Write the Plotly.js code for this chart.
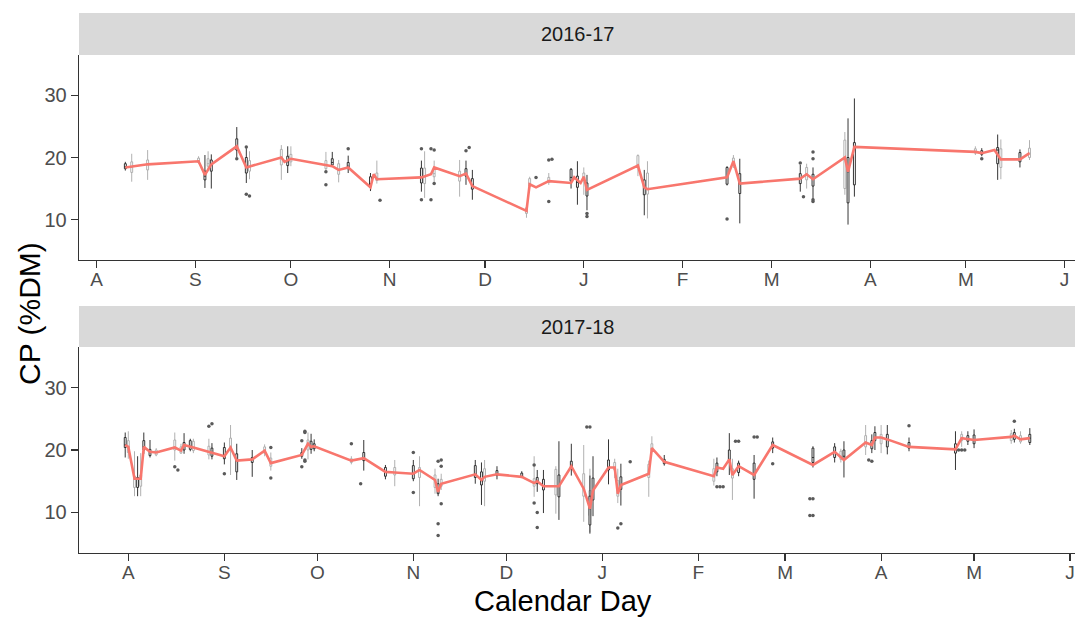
<!DOCTYPE html>
<html>
<head>
<meta charset="utf-8">
<script src="https://cdn.plot.ly/plotly-3.0.1.min.js"></script>
<style>
  html, body { margin: 0; padding: 0; background: #ffffff; }
  #chart { width: 1075px; height: 617px; }
</style>
</head>
<body>
<div id="chart"></div>
<script>
// ---- Season 2016-17 : daily mean crude protein (red line) ----
const cpDates1617 = ['2016-08-10','2016-08-17','2016-09-02','2016-09-04','2016-09-06','2016-09-14','2016-09-17','2016-09-28','2016-09-29','2016-10-01',
  '2016-10-14','2016-10-16','2016-10-19','2016-10-26','2016-10-27','2016-10-28','2016-11-11','2016-11-14','2016-11-15','2016-11-23',
  '2016-11-25','2016-11-27','2016-12-14','2016-12-15','2016-12-17','2016-12-21','2016-12-28','2016-12-29','2016-12-31','2017-01-01',
  '2017-01-02','2017-01-18','2017-01-20','2017-01-21','2017-02-15','2017-02-17','2017-02-19','2017-03-10','2017-03-12','2017-03-14',
  '2017-03-24','2017-03-25','2017-03-27','2017-05-04','2017-05-06','2017-05-10','2017-05-12','2017-05-18','2017-05-21'];
const cpMean1617 = [18.4,18.9,19.4,17.2,18.9,21.8,18.4,20.0,19.3,19.8,
  18.6,18.0,18.4,15.2,17.3,16.5,16.8,17.3,18.4,17.0,
  17.4,15.4,11.4,15.7,15.2,16.2,15.9,16.8,15.9,16.9,
  14.8,18.7,15.2,14.9,16.8,19.4,15.8,16.6,17.3,16.5,
  20.0,17.7,21.7,20.9,20.7,21.2,19.7,19.7,20.7];

// ---- Season 2016-17 : daily box summaries ----
const boxDates1617 = ['2016-08-10','2016-08-12','2016-08-17','2016-09-02','2016-09-04','2016-09-05','2016-09-06','2016-09-14','2016-09-17','2016-09-18',
  '2016-09-28','2016-09-30','2016-10-01','2016-10-12','2016-10-14','2016-10-16','2016-10-19','2016-10-26','2016-10-28','2016-11-11',
  '2016-11-12','2016-11-15','2016-11-23','2016-11-25','2016-11-27','2016-12-14','2016-12-15','2016-12-21','2016-12-28','2016-12-30',
  '2017-01-01','2017-01-02','2017-01-18','2017-01-20','2017-01-21','2017-02-15','2017-02-17','2017-02-19','2017-03-10','2017-03-12',
  '2017-03-14','2017-03-24','2017-03-25','2017-03-27','2017-05-04','2017-05-06','2017-05-11','2017-05-12','2017-05-18','2017-05-21'];
const boxLow1617  = [17.9,16.1,16.4,19.0,15.1,18.0,15.0,20.0,15.9,16.5, 16.4,17.5,18.6,17.6,18.5,16.0,17.5,14.6,15.8,14.5,
  13.5,15.8,13.7,15.6,13.2,10.3,15.0,15.6,15.0,12.4, 14.0,11.5,17.0,10.7,10.2,15.5,18.3,9.4,14.5,15.0, 12.7,14.0,9.2,13.7,20.4,20.2,16.4,16.5,18.4,19.6];
const boxQ1_1617  = [18.2,17.6,18.0,19.2,16.4,18.6,17.8,21.2,17.5,17.8, 18.8,18.7,19.3,18.2,18.8,17.3,18.2,15.3,16.3,15.9,
  15.8,16.9,16.2,17.0,14.9,11.0,15.4,16.0,16.2,15.2, 16.3,13.8,18.4,14.0,14.1,15.7,18.8,14.2,15.8,16.4, 15.4,15.0,12.7,15.6,20.7,20.5,19.0,18.4,19.3,20.0];
const boxMed1617  = [18.5,18.4,18.9,19.5,17.0,19.0,18.9,21.8,18.4,18.6, 20.0,19.3,19.8,18.8,19.2,18.0,18.6,15.8,16.8,16.8,
  16.9,17.4,17.0,17.4,15.6,11.4,15.8,16.3,16.8,16.0, 16.9,14.8,18.9,15.2,15.0,16.8,19.4,15.8,16.6,17.3, 16.5,20.0,17.7,21.7,21.0,20.8,21.2,19.7,19.7,20.7];
const boxQ3_1617  = [19.0,19.3,19.6,19.9,17.8,19.8,19.6,23.0,20.0,19.5, 21.3,20.2,20.5,19.5,19.8,19.0,19.2,16.9,17.5,18.3,
  18.3,18.2,17.8,18.2,16.6,11.9,16.6,16.8,18.1,17.0, 17.5,15.9,20.3,16.4,17.5,18.4,19.9,17.4,17.4,18.4, 17.3,22.8,20.0,22.4,21.4,21.1,21.6,21.4,20.8,21.5];
const boxHigh1617 = [19.3,20.6,21.2,20.2,20.4,21.0,20.5,24.9,21.5,21.0, 22.0,21.8,21.8,20.9,20.9,19.6,20.3,17.5,19.5,19.5,
  21.0,19.5,19.6,19.5,18.0,12.3,16.9,17.5,18.3,19.4, 18.4,17.2,20.5,18.0,19.4,18.6,20.4,19.8,18.8,19.0, 18.4,24.1,26.3,29.5,21.8,21.5,23.7,22.9,21.3,22.8];
const boxShade1617 = ['dark','light','light','light','dark','light','dark','dark','dark','light',
  'light','dark','light','light','dark','light','dark','dark','light','dark',
  'light','light','light','dark','dark','light','light','light','dark','dark',
  'light','dark','light','dark','light','dark','light','dark','dark','light',
  'dark','light','dark','dark','light','dark','dark','light','dark','light'];

// ---- Season 2016-17 : outlying samples ----
const outDates1617 = ['2016-09-14','2016-09-17','2016-09-17','2016-09-18','2016-10-12','2016-10-12','2016-10-19','2016-10-29','2016-11-11','2016-11-11',
  '2016-11-14','2016-11-15','2016-11-14','2016-11-15','2016-11-25','2016-11-26','2016-12-17','2016-12-21','2016-12-22','2016-12-21',
  '2017-01-02','2017-01-02','2017-02-15','2017-03-10','2017-03-11','2017-03-14','2017-03-14','2017-03-14','2017-03-14','2017-05-06'];
const outCP1617 = [19.8,21.7,14.1,13.8,17.7,15.6,21.4,13.1,21.4,13.2,
  21.4,21.2,13.2,15.8,21.1,21.6,16.8,19.6,19.7,12.9,
  11.0,10.5,10.1,19.1,13.7,20.9,19.8,13.2,12.9,19.8];

// ---- Season 2017-18 : daily mean crude protein (red line) ----
const cpDates1718 = ['2017-07-31','2017-08-01','2017-08-03','2017-08-05','2017-08-06','2017-08-08','2017-08-10','2017-08-16','2017-08-18','2017-08-19',
  '2017-08-22','2017-08-28','2017-09-01','2017-09-03','2017-09-05','2017-09-10','2017-09-14','2017-09-16','2017-09-26','2017-09-28',
  '2017-09-29','2017-09-30','2017-10-12','2017-10-16','2017-10-23','2017-10-26','2017-11-01','2017-11-03','2017-11-08','2017-11-09',
  '2017-11-10','2017-11-21','2017-11-23','2017-11-24','2017-11-28','2017-12-06','2017-12-10','2017-12-11','2017-12-13','2017-12-18',
  '2017-12-22','2017-12-26','2017-12-28','2017-12-29','2018-01-03','2018-01-05','2018-01-06','2018-01-07','2018-01-16','2018-01-17',
  '2018-01-21','2018-02-06','2018-02-07','2018-02-09','2018-02-11','2018-02-12','2018-02-14','2018-02-19','2018-02-25','2018-03-10',
  '2018-03-17','2018-03-20','2018-03-27','2018-03-29','2018-03-30','2018-04-01','2018-04-03','2018-04-10','2018-04-25','2018-04-27',
  '2018-05-01','2018-05-13','2018-05-14','2018-05-16','2018-05-19'];
const cpMean1718 = [20.8,20.5,15.4,15.4,20.5,19.7,19.6,20.4,19.9,20.8,
  20.4,19.6,19.0,20.4,18.3,18.5,19.9,17.9,19.2,21.0,
  20.5,20.6,18.3,18.7,16.5,16.4,16.2,16.8,15.2,13.3,
  14.6,16.1,15.2,15.7,16.1,15.7,14.7,15.0,14.2,14.2,
  17.4,13.8,10.6,13.5,17.2,17.2,13.0,14.4,16.2,20.3,
  18.1,15.8,17.2,17.0,18.5,16.0,17.4,16.0,20.8,17.6,
  19.7,18.4,21.2,20.8,22.0,22.0,21.7,20.5,20.1,21.9,
  21.6,22.1,22.3,21.7,21.9];

// ---- Season 2017-18 : daily box summaries ----
const boxDates1718 = ['2017-07-31','2017-08-01','2017-08-03','2017-08-04','2017-08-05','2017-08-06','2017-08-08','2017-08-10','2017-08-16','2017-08-18',
  '2017-08-19','2017-08-21','2017-08-22','2017-08-27','2017-08-28','2017-09-01','2017-09-03','2017-09-05','2017-09-10','2017-09-14',
  '2017-09-16','2017-09-26','2017-09-28','2017-09-29','2017-09-30','2017-10-12','2017-10-16','2017-10-23','2017-10-26','2017-11-01',
  '2017-11-03','2017-11-08','2017-11-09','2017-11-10','2017-11-21','2017-11-23','2017-11-24','2017-11-28','2017-12-06','2017-12-10',
  '2017-12-11','2017-12-13','2017-12-17','2017-12-18','2017-12-22','2017-12-26','2017-12-28','2017-12-28','2017-12-29','2018-01-03',
  '2018-01-05','2018-01-06','2018-01-07','2018-01-16','2018-01-17','2018-01-21','2018-02-06','2018-02-07','2018-02-11','2018-02-12',
  '2018-02-14','2018-02-19','2018-02-25','2018-03-10','2018-03-17','2018-03-19','2018-03-20','2018-03-27','2018-03-29','2018-03-30',
  '2018-04-01','2018-04-03','2018-04-10','2018-04-25','2018-04-27','2018-04-29','2018-05-01','2018-05-13','2018-05-14','2018-05-16',
  '2018-05-19'];
const boxLow1718  = [18.8,18.6,12.6,12.6,12.6,19.4,18.8,19.0,18.3,19.4, 19.4,19.8,19.5,18.5,18.5,17.7,16.0,15.2,15.7,19.0,
  16.7,18.6,18.5,19.4,19.8,17.7,16.7,15.3,14.2,15.0, 11.0,13.0,12.6,13.6,14.6,11.2,11.0,15.3,15.5,12.5,
  13.3,9.9,9.8,8.8,15.9,8.5,6.6,6.8,9.4,14.5, 15.5,11.5,11.1,12.5,19.6,17.5,14.3,15.8,16.0,12.0,
  15.8,12.2,19.5,17.2,18.0,18.0,15.6,19.2,19.5,20.0, 19.5,19.3,19.8,16.8,20.5,20.8,20.3,21.0,21.2,21.0, 20.8];
const boxQ1_1718  = [20.4,19.6,14.0,14.0,14.2,20.0,19.1,19.2,20.0,19.5, 20.0,20.1,19.9,19.2,19.0,18.6,20.0,16.5,18.0,19.5,
  17.4,19.0,20.0,20.1,20.2,18.0,18.3,15.8,16.0,15.4, 15.6,14.0,13.0,14.2,15.6,14.4,15.0,15.9,15.6,14.2,
  14.6,13.6,12.8,12.5,17.0,12.6,8.0,9.5,12.0,16.8, 16.8,12.6,13.7,15.6,19.9,17.8,15.0,16.5,18.0,15.5,
  16.4,15.3,20.3,18.0,18.8,18.5,18.5,20.5,20.2,21.5, 21.0,20.5,20.3,19.5,21.5,21.4,21.0,21.5,21.7,21.3, 21.2];
const boxMed1718  = [20.8,20.5,15.4,15.3,15.4,20.5,19.6,19.6,20.4,19.9, 20.8,20.6,20.4,19.6,19.6,19.0,20.4,18.3,18.5,19.9,
  17.9,19.2,21.0,20.5,20.6,18.3,18.7,16.5,16.4,16.2, 16.8,15.2,13.3,14.6,16.1,15.2,15.7,16.1,15.7,14.7,
  15.0,14.2,14.2,14.2,17.4,13.8,10.6,10.9,13.5,17.2, 17.2,13.0,14.4,16.2,20.3,18.1,15.8,17.2,18.5,16.0,
  17.4,16.0,20.8,18.8,19.7,19.0,19.0,21.2,20.8,22.0, 22.0,21.7,20.5,20.1,21.9,21.8,21.6,22.1,22.3,21.7, 21.9];
const boxQ3_1718  = [22.0,21.5,15.8,15.6,16.0,21.5,20.1,20.0,21.6,20.5, 21.2,21.5,21.4,20.6,20.3,20.4,21.9,19.4,18.8,20.5,
  18.7,19.6,21.6,21.4,21.0,18.6,19.6,17.2,17.2,17.5, 17.2,16.0,14.6,15.3,17.5,16.5,17.0,16.7,16.3,15.4,
  15.6,15.3,16.9,16.0,18.2,16.2,12.6,13.5,15.5,18.4, 18.0,15.1,15.7,17.7,21.0,18.5,17.0,17.9,20.0,17.0,
  17.9,17.9,21.3,20.3,20.5,19.8,20.0,22.3,21.5,22.8, 22.5,22.5,21.2,21.0,22.5,22.3,22.4,22.6,22.8,22.3, 22.5];
const boxHigh1718 = [22.8,23.0,19.8,19.0,19.5,22.8,21.6,20.3,22.8,21.0, 22.7,21.8,21.8,21.8,21.1,21.2,24.0,21.0,20.0,20.9,
  19.6,20.3,22.8,22.6,21.7,19.0,21.6,17.6,18.4,18.4, 19.0,17.0,15.4,16.2,18.4,18.0,18.4,17.4,16.6,19.0,
  16.8,16.8,17.4,21.4,21.0,20.8,15.9,17.0,19.0,21.7, 18.6,17.0,17.8,18.3,22.2,19.2,18.6,18.8,22.7,18.6,
  18.3,19.2,22.0,20.6,21.1,20.2,21.4,24.0,22.5,23.8, 24.0,24.0,22.0,23.0,23.0,23.0,23.3,23.2,23.4,23.0, 23.5];
const boxShade1718 = ['dark','light','light','dark','light','dark','dark','light','light','light',
  'dark','dark','light','light','dark','dark','light','dark','dark','light',
  'light','dark','light','dark','dark','light','dark','dark','light','dark',
  'light','light','dark','light','dark','dark','light','dark','dark','light',
  'dark','dark','light','dark','dark','light','dark','light','dark','dark',
  'light','light','dark','light','light','dark','light','dark','dark','light',
  'dark','dark','dark','dark','dark','light','dark','light','dark','dark',
  'light','dark','dark','dark','light','dark','dark','light','dark','light',
  'dark'];

// ---- Season 2017-18 : outlying samples ----
const outDates1718 = ['2017-08-16','2017-08-17','2017-08-27','2017-08-28','2017-09-01','2017-09-16','2017-09-16','2017-09-26','2017-09-26','2017-09-27',
  '2017-09-27','2017-09-27','2017-09-27','2017-10-12','2017-10-15','2017-11-01','2017-11-01','2017-11-09','2017-11-10','2017-11-10',
  '2017-11-10','2017-11-09','2017-11-09','2017-12-10','2017-12-10','2017-12-11','2017-12-11','2017-12-27','2017-12-28','2018-01-06',
  '2018-01-07','2018-01-10','2018-02-07','2018-02-08','2018-02-09','2018-02-13','2018-02-14','2018-02-19','2018-02-20','2018-02-25',
  '2018-03-09','2018-03-10','2018-03-09','2018-03-10','2018-03-28','2018-03-29','2018-04-10','2018-04-26','2018-04-27','2018-04-28',
  '2018-05-14'];
const outCP1718 = [17.3,16.8,23.8,24.2,16.2,20.4,15.5,21.5,17.3,23.0,
  22.8,18.4,18.2,21.0,14.6,19.6,13.2,18.2,18.4,17.4,
  11.4,8.2,6.3,17.6,11.5,10.0,7.6,23.7,23.7,7.5,
  8.2,18.1,14.1,14.1,14.1,21.4,21.4,22.1,22.1,17.8,
  12.2,12.2,9.5,9.5,18.4,18.2,23.9,20.0,20.0,20.0,
  24.6];

// ---- Axis tick labels (first letter of each month) ----
const monthLetters = ['A','S','O','N','D','J','F','M','A','M','J'];
const monthStarts1617 = ['2016-08-01','2016-09-01','2016-10-01','2016-11-01','2016-12-01','2017-01-01','2017-02-01','2017-03-01','2017-04-01','2017-05-01','2017-06-01'];
const monthStarts1718 = ['2017-08-01','2017-09-01','2017-10-01','2017-11-01','2017-12-01','2018-01-01','2018-02-01','2018-03-01','2018-04-01','2018-05-01','2018-06-01'];
const cpTicks = [10, 20, 30];
const seasonLabels = ['2016-17', '2017-18'];

const DAY_MS = 86400000;
const INK = { dark: '#1e1e1e', light: '#a8a8a8' };

// Split the daily summaries into one box trace per outline shade.
function boxTraces(dates, lo, q1, med, q3, hi, shade, xa, ya) {
  return ['light', 'dark'].map(function (s) {
    const idx = [];
    shade.forEach(function (v, i) { if (v === s) idx.push(i); });
    const pick = function (arr) { return idx.map(function (i) { return arr[i]; }); };
    return {
      type: 'box', xaxis: xa, yaxis: ya,
      x: pick(dates), lowerfence: pick(lo), q1: pick(q1), median: pick(med),
      q3: pick(q3), upperfence: pick(hi),
      width: 0.6 * DAY_MS, whiskerwidth: 0, boxpoints: false,
      line: { color: INK[s], width: 0.9 }, fillcolor: '#ffffff',
      showlegend: false, hoverinfo: 'skip'
    };
  });
}

function outlierTrace(dates, vals, xa, ya) {
  return {
    type: 'scatter', mode: 'markers', xaxis: xa, yaxis: ya,
    x: dates, y: vals,
    marker: { color: '#5a5a5a', size: 3.5 },
    showlegend: false, hoverinfo: 'skip'
  };
}

function meanTrace(dates, vals, xa, ya) {
  return {
    type: 'scatter', mode: 'lines', xaxis: xa, yaxis: ya,
    x: dates, y: vals,
    line: { color: '#F8766D', width: 2.6 },
    showlegend: false, hoverinfo: 'skip'
  };
}

const traces = []
  .concat(boxTraces(boxDates1617, boxLow1617, boxQ1_1617, boxMed1617, boxQ3_1617, boxHigh1617, boxShade1617, 'x', 'y'))
  .concat([outlierTrace(outDates1617, outCP1617, 'x', 'y'), meanTrace(cpDates1617, cpMean1617, 'x', 'y')])
  .concat(boxTraces(boxDates1718, boxLow1718, boxQ1_1718, boxMed1718, boxQ3_1718, boxHigh1718, boxShade1718, 'x2', 'y2'))
  .concat([outlierTrace(outDates1718, outCP1718, 'x2', 'y2'), meanTrace(cpDates1718, cpMean1718, 'x2', 'y2')]);

const H = 617;
const FONT = 'Liberation Sans, Arial, sans-serif';
const yTickFont = { family: FONT, size: 20, color: '#4d4d4d' };
const xTickFont = { family: FONT, size: 19, color: '#4d4d4d' };

// Panel geometry in pixels (top of strip, top of panel, bottom of panel)
const panels = [
  { strip: 13, top: 55, bottom: 260 },
  { strip: 306, top: 347, bottom: 553 }
];
const py = function (px) { return 1 - px / H; };

function xAxis(anchor, ticks, range) {
  return {
    type: 'date', anchor: anchor, domain: [0, 1], range: range,
    tickmode: 'array', tickvals: ticks, ticktext: monthLetters,
    ticks: 'outside', ticklen: 7, tickwidth: 1.2, tickcolor: '#333333',
    ticklabelstandoff: -5,
    showline: true, linecolor: '#333333', linewidth: 1.3,
    showgrid: false, zeroline: false, tickfont: xTickFont, fixedrange: true
  };
}
function yAxis(anchor, p) {
  return {
    anchor: anchor, domain: [py(p.bottom), py(p.top)], range: [3.5, 36.5],
    tickmode: 'array', tickvals: cpTicks, ticktext: cpTicks.map(String),
    ticks: 'outside', ticklen: 7, tickwidth: 1.2, tickcolor: '#333333',
    showline: true, linecolor: '#333333', linewidth: 1.3,
    showgrid: false, zeroline: false, tickfont: yTickFont, fixedrange: true
  };
}

const shapes = panels.map(function (p) {
  return {
    type: 'rect', xref: 'paper', yref: 'paper', x0: 0, x1: 1,
    y0: py(p.top), y1: py(p.strip), fillcolor: '#d9d9d9', line: { width: 0 }, layer: 'below'
  };
});

const annotations = panels.map(function (p, i) {
  return {
    xref: 'paper', yref: 'paper', x: 0.5, y: py((p.strip + p.top) / 2),
    text: seasonLabels[i], showarrow: false, xanchor: 'center', yanchor: 'middle',
    font: { family: FONT, size: 20, color: '#1a1a1a' }
  };
}).concat([
  {
    xref: 'paper', yref: 'paper', x: (563 - 79) / 996, y: py(601), text: 'Calendar Day',
    showarrow: false, xanchor: 'center', yanchor: 'middle',
    font: { family: FONT, size: 29, color: '#000000' }
  },
  {
    xref: 'paper', yref: 'paper', x: (29 - 79) / 996, y: py(314), text: 'CP (%DM)',
    textangle: -90, showarrow: false, xanchor: 'center', yanchor: 'middle',
    font: { family: FONT, size: 30, color: '#000000' }
  }
]);

const layout = {
  width: 1075, height: H,
  margin: { l: 79, r: 0, t: 0, b: 0 },
  paper_bgcolor: '#ffffff', plot_bgcolor: '#ffffff',
  showlegend: false, boxmode: 'overlay',
  xaxis: xAxis('y', monthStarts1617, ['2016-07-26 10:40', '2017-06-04 07:00']),
  yaxis: yAxis('x', panels[0]),
  xaxis2: xAxis('y2', monthStarts1718, ['2017-07-16 02:00', '2018-06-02 14:00']),
  yaxis2: yAxis('x2', panels[1]),
  shapes: shapes,
  annotations: annotations
};

Plotly.newPlot('chart', traces, layout, { displayModeBar: false, staticPlot: true });
</script>
</body>
</html>
